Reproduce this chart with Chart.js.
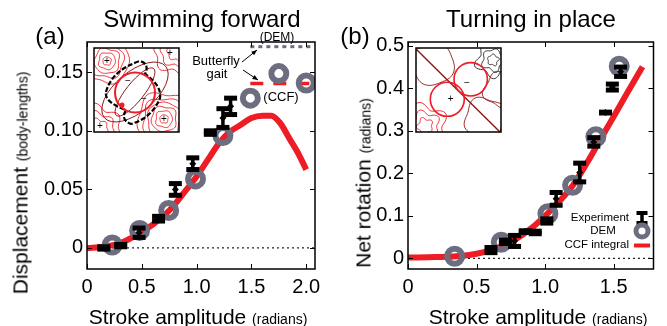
<!DOCTYPE html>
<html>
<head>
<meta charset="utf-8">
<script src="https://cdn.jsdelivr.net/npm/chart.js@4.4.1/dist/chart.umd.min.js"></script>
<style>
  body { margin: 0; background: #fff; }
  #wrap { position: relative; width: 667px; height: 326px; overflow: hidden;
          font-family: "Liberation Sans", Arial, Helvetica, sans-serif; color: #000; }
  canvas { position: absolute; top: 0; }
  .t { position: absolute; white-space: nowrap; line-height: 1; transform: translate(-50%, -50%); }
  .ra { transform: translate(-100%, -50%); }
  .sm { font-size: 14px; }
</style>
</head>
<body>
<div id="wrap">
  <canvas id="ca" width="333" height="326" style="left:0"></canvas>
  <canvas id="cb" width="334" height="326" style="left:333px"></canvas>

  <div class="t" style="left:202px;top:19px;font-size:24px">Swimming forward</div>
  <div class="t" style="left:531px;top:19px;font-size:24px">Turning in place</div>
  <div class="t" style="left:50px;top:36px;font-size:24px">(a)</div>
  <div class="t" style="left:355px;top:36px;font-size:24px">(b)</div>

  <div class="t" style="left:20px;top:183px;font-size:21px;transform:translate(-50%,-50%) rotate(-90deg)">Displacement <span class="sm">(body-lengths)</span></div>
  <div class="t" style="left:363px;top:183px;font-size:21px;transform:translate(-50%,-50%) rotate(-90deg)">Net rotation <span class="sm">(radians)</span></div>
  <div class="t" style="left:198px;top:316px;font-size:21px">Stroke amplitude <span class="sm">(radians)</span></div>
  <div class="t" style="left:538px;top:316px;font-size:21px">Stroke amplitude <span class="sm">(radians)</span></div>

  <div class="t" style="left:277px;top:37px;font-size:12px">(DEM)</div>
  <div class="t" style="left:216px;top:60px;font-size:13px">Butterfly</div>
  <div class="t" style="left:217px;top:73px;font-size:13px">gait</div>
  <div class="t" style="left:281px;top:96px;font-size:13px">(CCF)</div>

  <div class="t ra" style="left:629px;top:218px;font-size:11.5px">Experiment</div>
  <div class="t" style="left:603px;top:231px;font-size:11.5px">DEM</div>
  <div class="t ra" style="left:629px;top:245px;font-size:11.5px">CCF integral</div>
</div>

<script>
// ---- panel (a): swimming forward ----
const aXTicks = [0, 0.5, 1, 1.5, 2];
const aXTickLabels = ['0', '0.5', '1.0', '1.5', '2.0'];
const aYTicks = [0, 0.05, 0.1, 0.15];
const aYTickLabels = ['0', '0.05', '0.10', '0.15'];

const aCcfX = [0, 0.15, 0.3, 0.45, 0.6, 0.75, 0.9, 1.0, 1.1, 1.2, 1.3, 1.4, 1.5, 1.6, 1.68, 1.76, 1.85, 1.92, 2.0];
const aCcfY = [0.000, 0.001, 0.004, 0.011, 0.020, 0.032, 0.049, 0.061, 0.075, 0.089, 0.099, 0.105, 0.111, 0.113, 0.113, 0.107, 0.093, 0.082, 0.067];

const aDemX = [0.23, 0.48, 0.745, 0.99, 1.24, 1.49, 1.75, 2.0];
const aDemY = [0.0025, 0.015, 0.032, 0.059, 0.096, 0.128, 0.149, 0.141];

const aExpX = [0.153, 0.307, 0.475, 0.653, 0.806, 0.965, 1.125, 1.24, 1.31];
const aExpY = [0.000, 0.002, 0.013, 0.025, 0.050, 0.072, 0.0986, 0.111, 0.121];
const aExpErr = [0.001, 0.001, 0.004, 0.002, 0.005, 0.005, 0.0015, 0.008, 0.007];

// butterfly gait reference levels
const aGaitX = [1.49, 2.06];
const aGaitDem = [0.172, 0.172];
const aGaitCcf = [0.1405, 0.1405];

// ---- panel (b): turning in place ----
const bXTicks = [0, 0.5, 1, 1.5];
const bXTickLabels = ['0', '0.5', '1.0', '1.5'];
const bYTicks = [0, 0.1, 0.2, 0.3, 0.4, 0.5];
const bYTickLabels = ['0', '0.1', '0.2', '0.3', '0.4', '0.5'];

const bCcfX = [0, 0.2, 0.4, 0.5, 0.6, 0.7, 0.8, 0.9, 1.0, 1.1, 1.2, 1.3, 1.4, 1.5, 1.6, 1.71];
const bCcfY = [0.002, 0.003, 0.006, 0.011, 0.019, 0.031, 0.048, 0.071, 0.100, 0.133, 0.171, 0.222, 0.278, 0.334, 0.390, 0.451];

const bDemX = [0.34, 0.68, 1.02, 1.2, 1.37, 1.54];
const bDemY = [0.005, 0.038, 0.105, 0.172, 0.286, 0.452];

const bExpX = [0.605, 0.71, 0.777, 0.855, 0.928, 1.012, 1.08, 1.252, 1.355, 1.44, 1.49, 1.55];
const bExpY = [0.0195, 0.039, 0.041, 0.063, 0.061, 0.088, 0.14, 0.202, 0.274, 0.343, 0.403, 0.439];
const bExpErr = [0.006, 0.004, 0.013, 0.002, 0.003, 0.005, 0.015, 0.022, 0.010, 0.001, 0.007, 0.011];

const RED = '#ee1c25';
const GRAY = '#6c6e80';
const DARKRED = '#8c1414';
const FONT = '"Liberation Sans", Arial, Helvetica, sans-serif';

const pts = (xs, ys) => xs.map((x, i) => ({ x, y: ys[i] }));

// squarish wobbly contour loop
function loop(ctx, cx, cy, r, rot, wob, k) {
  ctx.beginPath();
  for (let i = 0; i <= 72; i++) {
    const t = (i / 72) * Math.PI * 2;
    const p = 3;
    const s = Math.pow(Math.pow(Math.abs(Math.cos(t)), p) + Math.pow(Math.abs(Math.sin(t)), p), -1 / p);
    const rr = r * s * (1 + wob * Math.sin(k * t + r));
    const x = cx + rr * Math.cos(t + rot);
    const y = cy + rr * Math.sin(t + rot);
    i ? ctx.lineTo(x, y) : ctx.moveTo(x, y);
  }
  ctx.closePath();
  ctx.stroke();
}

function sign(ctx, s, x, y) {
  ctx.fillStyle = '#000';
  ctx.font = '10px ' + FONT;
  ctx.textAlign = 'center';
  ctx.textBaseline = 'middle';
  ctx.fillText(s, x, y);
}

function insetA(ctx) {
  const L = 94, T = 48, R = 179, B = 132;
  ctx.save();
  ctx.fillStyle = '#fff';
  ctx.fillRect(L, T, R - L, B - T);
  ctx.beginPath(); ctx.rect(L, T, R - L, B - T); ctx.clip();
  ctx.lineWidth = 0.9;
  ctx.strokeStyle = RED;
  [4, 8, 12, 16, 21].forEach(r => loop(ctx, 107, 61, r, 0.2, 0.06, 5));
  [4, 8, 12, 16, 20, 25].forEach(r => loop(ctx, 164, 119, r, 0.1, 0.06, 5));
  [9, 15, 21].forEach(r => loop(ctx, 177, 51, r, 0.3, 0.12, 6));
  [9, 15, 21].forEach(r => loop(ctx, 98, 129, r, 0.5, 0.12, 6));
  ctx.strokeStyle = DARKRED;
  ctx.save(); ctx.translate(135, 92); ctx.rotate(-0.9);
  ctx.beginPath(); ctx.ellipse(0, 0, 30, 9, 0, 0, Math.PI * 2); ctx.stroke();
  ctx.beginPath(); ctx.ellipse(0, 0, 40, 20, 0.2, 0, Math.PI * 2); ctx.stroke();
  ctx.restore();
  // dashed orbit
  ctx.strokeStyle = '#000';
  ctx.lineWidth = 2.2;
  ctx.setLineDash([5, 2]);
  ctx.beginPath();
  ctx.moveTo(106, 92);
  ctx.quadraticCurveTo(112, 70, 140, 61);
  ctx.quadraticCurveTo(150, 64, 145, 74);
  ctx.quadraticCurveTo(162, 86, 160, 98);
  ctx.quadraticCurveTo(152, 118, 131, 124);
  ctx.quadraticCurveTo(120, 120, 126, 110);
  ctx.quadraticCurveTo(104, 102, 106, 92);
  ctx.stroke();
  ctx.setLineDash([]);
  // stroke circle
  ctx.strokeStyle = RED;
  ctx.lineWidth = 2;
  ctx.beginPath(); ctx.arc(135, 92.5, 20, 0, Math.PI * 2); ctx.stroke();
  ctx.fillStyle = RED;
  ctx.beginPath(); ctx.arc(122, 105, 2.5, 0, Math.PI * 2); ctx.fill();
  sign(ctx, '\u2212', 128, 81); sign(ctx, '\u2212', 144, 99);
  sign(ctx, '+', 107, 61); sign(ctx, '+', 170, 53); sign(ctx, '+', 100, 126); sign(ctx, '+', 164, 119);
  ctx.restore();
  ctx.lineWidth = 1.5; ctx.strokeStyle = '#000';
  ctx.strokeRect(L, T, R - L, B - T);
}

function insetB(ctx) {
  const L = 83, T = 48, R = 168, B = 132;
  ctx.save();
  ctx.fillStyle = '#fff';
  ctx.fillRect(L, T, R - L, B - T);
  ctx.beginPath(); ctx.rect(L, T, R - L, B - T); ctx.clip();
  ctx.lineWidth = 0.9;
  ctx.strokeStyle = RED;
  [7, 13, 19].forEach(r => loop(ctx, 92, 126, r, 0.4, 0.15, 5));
  ctx.strokeStyle = DARKRED;
  loop(ctx, 100, 64, 20, 0.2, 0.1, 4);
  loop(ctx, 152, 118, 19, 0.6, 0.1, 4);
  loop(ctx, 168, 90, 16, 0.3, 0.1, 4);
  ctx.strokeStyle = '#222';
  [5, 10, 15].forEach(r => loop(ctx, 160, 60, r, 0.5, 0.15, 5));
  ctx.strokeStyle = DARKRED;
  ctx.lineWidth = 1.4;
  ctx.beginPath(); ctx.moveTo(84, 50); ctx.lineTo(168, 133); ctx.stroke();
  ctx.strokeStyle = RED;
  ctx.lineWidth = 1.6;
  ctx.beginPath(); ctx.arc(137.7, 79.3, 16.7, 0, Math.PI * 2); ctx.stroke();
  ctx.beginPath(); ctx.arc(114.3, 99.3, 17, 0, Math.PI * 2); ctx.stroke();
  sign(ctx, '\u2212', 134, 83); sign(ctx, '+', 117.7, 99.3);
  ctx.restore();
  ctx.lineWidth = 1.5; ctx.strokeStyle = '#000';
  ctx.strokeRect(L, T, R - L, B - T);
}

function arrow(ctx, x1, y1, x2, y2) {
  const a = Math.atan2(y2 - y1, x2 - x1);
  ctx.strokeStyle = '#000'; ctx.fillStyle = '#000'; ctx.lineWidth = 1;
  ctx.beginPath(); ctx.moveTo(x1, y1); ctx.lineTo(x2, y2); ctx.stroke();
  ctx.beginPath();
  ctx.moveTo(x2, y2);
  ctx.lineTo(x2 - 6 * Math.cos(a - 0.4), y2 - 6 * Math.sin(a - 0.4));
  ctx.lineTo(x2 - 6 * Math.cos(a + 0.4), y2 - 6 * Math.sin(a + 0.4));
  ctx.closePath(); ctx.fill();
}

function errorBar(ctx, x, yTop, yBot, w, h) {
  ctx.fillStyle = '#000';
  ctx.strokeStyle = '#000';
  ctx.lineWidth = 3.5;
  ctx.beginPath(); ctx.moveTo(x, yTop); ctx.lineTo(x, yBot); ctx.stroke();
  ctx.fillRect(x - w / 2, yTop - h / 2, w, h);
  ctx.fillRect(x - w / 2, yBot - h / 2, w, h);
}

const decor = {
  id: 'decor',
  afterDatasetsDraw(chart, args, opts) {
    const { ctx, chartArea: a, scales: { x, y } } = chart;
    ctx.save();
    // error bars
    chart.data.datasets.forEach(ds => {
      if (!ds.errs) return;
      ds.data.forEach((p, i) => {
        const px = x.getPixelForValue(p.x);
        errorBar(ctx, px, y.getPixelForValue(p.y + ds.errs[i]), y.getPixelForValue(p.y - ds.errs[i]), 13, 5);
      });
    });
    // frame and inward ticks
    ctx.strokeStyle = '#000';
    ctx.lineWidth = 1.5;
    ctx.strokeRect(a.left, a.top, a.right - a.left, a.bottom - a.top);
    ctx.lineWidth = 1;
    ctx.beginPath();
    x.ticks.forEach(t => {
      const px = Math.round(x.getPixelForValue(t.value)) + 0.5;
      ctx.moveTo(px, a.bottom); ctx.lineTo(px, a.bottom - 5);
      ctx.moveTo(px, a.top); ctx.lineTo(px, a.top + 5);
    });
    y.ticks.forEach(t => {
      const py = Math.round(y.getPixelForValue(t.value)) + 0.5;
      ctx.moveTo(a.left, py); ctx.lineTo(a.left + 5, py);
      ctx.moveTo(a.right, py); ctx.lineTo(a.right - 5, py);
    });
    ctx.stroke();
    if (opts.extra) opts.extra(ctx);
    ctx.restore();
  }
};

function scaleCfg(min, max, ticks, labels, isX, size) {
  return {
    type: 'linear',
    min, max,
    grid: { display: false, drawTicks: false },
    border: { display: false },
    afterBuildTicks: s => { s.ticks = ticks.map(v => ({ value: v })); },
    afterFit: s => { if (isX) s.height = size; else s.width = size; },
    ticks: {
      padding: isX ? 6 : 4,
      color: '#000',
      font: { family: FONT, size: 20 },
      callback: (v, i) => labels[i]
    }
  };
}

function makeChart(id, cfg) {
  return new Chart(document.getElementById(id), {
    type: 'scatter',
    data: {
      datasets: [
        { data: cfg.exp, errs: cfg.err, pointStyle: 'rectRot', pointRadius: 3.5, backgroundColor: '#000', borderColor: '#000', borderWidth: 0, order: 1 },
        { data: cfg.dem, pointStyle: 'circle', pointRadius: 7.5, borderWidth: 6, borderColor: GRAY, backgroundColor: 'rgba(0,0,0,0)', order: 2 },
        ...cfg.extraLines,
        { data: cfg.ccf, showLine: true, borderColor: RED, borderWidth: 6, pointRadius: 0, cubicInterpolationMode: 'monotone', borderCapStyle: 'butt', order: 4 },
        { data: cfg.zero, showLine: true, borderColor: '#222', borderWidth: 1.2, borderDash: [2, 3], pointRadius: 0, order: 5 }
      ]
    },
    options: {
      responsive: false,
      animation: false,
      devicePixelRatio: 1,
      layout: { padding: cfg.padding },
      plugins: { legend: { display: false }, tooltip: { enabled: false }, decor: { extra: cfg.drawExtra } },
      scales: {
        x: scaleCfg(cfg.xr[0], cfg.xr[1], cfg.xt, cfg.xl, true, 40),
        y: scaleCfg(cfg.yr[0], cfg.yr[1], cfg.yt, cfg.yl, false, cfg.yw)
      }
    },
    plugins: [decor]
  });
}

makeChart('ca', {
  exp: pts(aExpX, aExpY), err: aExpErr,
  dem: pts(aDemX, aDemY),
  ccf: pts(aCcfX, aCcfY),
  zero: pts([0, 2.08], [0, 0]),
  extraLines: [
    { data: pts(aGaitX, aGaitDem), showLine: true, borderColor: GRAY, borderWidth: 3, borderDash: [4, 4], pointRadius: 0, order: 3 },
    { data: pts(aGaitX, aGaitCcf), showLine: true, borderColor: RED, borderWidth: 3.5, borderDash: [13, 10], pointRadius: 0, order: 3 }
  ],
  xr: [0, 2.08], yr: [-0.018, 0.176],
  xt: aXTicks, xl: aXTickLabels, yt: aYTicks, yl: aYTickLabels,
  yw: 87,
  padding: { left: 0, right: 18, top: 42, bottom: 17 },
  drawExtra: ctx => {
    insetA(ctx);
    arrow(ctx, 242, 62, 257, 50);
    arrow(ctx, 243, 70, 258, 80);
  }
});

makeChart('cb', {
  exp: pts(bExpX, bExpY), err: bExpErr,
  dem: pts(bDemX, bDemY),
  ccf: pts(bCcfX, bCcfY),
  zero: pts([0, 1.79], [0, 0]),
  extraLines: [],
  xr: [0, 1.79], yr: [-0.025, 0.509],
  xt: bXTicks, xl: bXTickLabels, yt: bYTicks, yl: bYTickLabels,
  yw: 75,
  padding: { left: 0, right: 11, top: 42, bottom: 17 },
  drawExtra: ctx => {
    insetB(ctx);
    // legend keys
    errorBar(ctx, 309, 213, 223, 11, 4);
    ctx.strokeStyle = GRAY; ctx.lineWidth = 5;
    ctx.beginPath(); ctx.arc(309, 231, 6, 0, Math.PI * 2); ctx.stroke();
    ctx.strokeStyle = RED; ctx.lineWidth = 4;
    ctx.beginPath(); ctx.moveTo(301, 245.5); ctx.lineTo(317, 245.5); ctx.stroke();
  }
});
</script>
</body>
</html>
